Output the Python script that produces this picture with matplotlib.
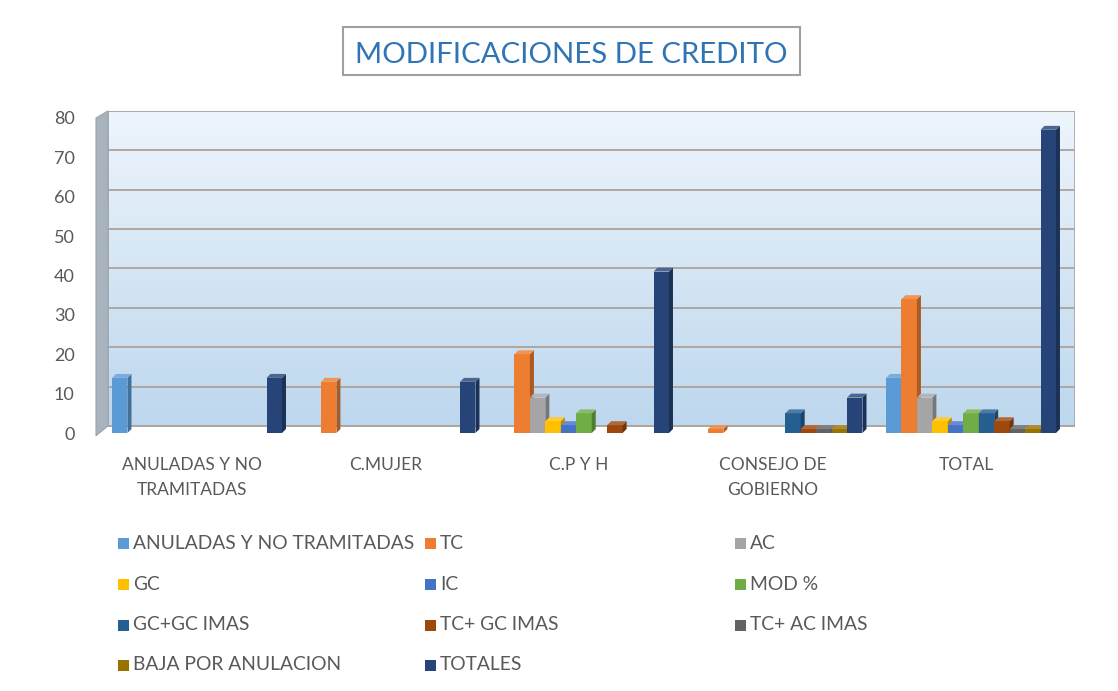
import matplotlib
matplotlib.use("Agg")
import matplotlib.pyplot as plt
import numpy as np
from matplotlib.patches import Polygon, Rectangle
from matplotlib.colors import to_rgb
import matplotlib.transforms as mtransforms

# ---------------- data ----------------
categories = ["ANULADAS Y NO\nTRAMITADAS", "C.MUJER", "C.P Y H", "CONSEJO DE\nGOBIERNO", "TOTAL"]
series_names = ["ANULADAS Y NO TRAMITADAS", "TC", "AC", "GC", "IC", "MOD %",
                "GC+GC IMAS", "TC+ GC IMAS", "TC+ AC IMAS", "BAJA POR ANULACION", "TOTALES"]
anuladas   = [14, 0, 0, 0, 14]
tc         = [0, 13, 20, 1, 34]
ac         = [0, 0, 9, 0, 9]
gc         = [0, 0, 3, 0, 3]
ic         = [0, 0, 2, 0, 2]
mod_pct    = [0, 0, 5, 0, 5]
gc_imas    = [0, 0, 0, 5, 5]
tc_gc_imas = [0, 0, 2, 1, 3]
tc_ac_imas = [0, 0, 0, 1, 1]
baja       = [0, 0, 0, 1, 1]
totales    = [14, 13, 41, 9, 77]
yticks = [0, 10, 20, 30, 40, 50, 60, 70, 80]

series_values = [anuladas, tc, ac, gc, ic, mod_pct, gc_imas, tc_gc_imas, tc_ac_imas, baja, totales]
colors = ["#5B9BD5", "#ED7D31", "#A5A5A5", "#FFC000", "#4472C4", "#70AD47",
          "#255E91", "#9E480E", "#636363", "#997300", "#264478"]

FONT = "Lato"
TXT = "#595959"

W, H = 1118, 691
fig = plt.figure(figsize=(W / 100, H / 100), dpi=100)
fig.patch.set_facecolor("white")

# axes in pixel geometry
ax_l, ax_r = 108, 1075
y0_px = 433
px_per_unit = 3.9375
depth_y = 1.8          # back wall offset (units)
ytop = 80 + depth_y
ax_top = y0_px - ytop * px_per_unit
ax = fig.add_axes([ax_l / W, (H - y0_px) / H, (ax_r - ax_l) / W, (y0_px - ax_top) / H])

cat_px0, cat_step = 197.0, 193.5
xlim = ((ax_l - cat_px0) / cat_step, (ax_r - cat_px0) / cat_step)
ax.set_xlim(*xlim)
ax.set_ylim(0, ytop)
for s in ax.spines.values():
    s.set_visible(False)

# back wall gradient
grad = np.linspace(0, 1, 256).reshape(-1, 1)
top_c = np.array(to_rgb("#EEF5FC"))
bot_c = np.array(to_rgb("#BDD7EE"))
img = top_c * (1 - grad[..., None]) + bot_c * grad[..., None]
img = img.reshape(256, 1, 3)
ax.imshow(img, extent=(xlim[0], xlim[1], depth_y, ytop), aspect="auto", zorder=0, origin="upper")
# wall frame
ax.add_patch(Rectangle((xlim[0], depth_y), xlim[1] - xlim[0], 80, fill=False,
                       edgecolor="#A6A6A6", lw=1.2, zorder=1))
# gridlines on back wall
for v in yticks:
    ax.plot([xlim[0], xlim[1]], [v + depth_y, v + depth_y], color="#AFA7A0", lw=1.4, zorder=1)

# left side wall
side_dx = 12 / cat_step
side = Polygon([(xlim[0] - side_dx, -0.7), (xlim[0], depth_y), (xlim[0], ytop), (xlim[0] - side_dx, 80)],
               closed=True, facecolor="#A9B3BD", edgecolor="#9BA5AF", lw=0.8, zorder=1, clip_on=False)
ax.add_patch(side)
simg = ax.imshow(np.array([[to_rgb("#8E99A5"), to_rgb("#C3CBD3")]]),
                 extent=(xlim[0] - side_dx, xlim[0], -0.7, ytop), aspect="auto", zorder=1.1,
                 interpolation="bilinear")
simg.set_clip_path(side)
simg.set_clip_on(True)

# bars
n = len(series_values)
sw = 15.45 / cat_step
bdx = 4 / cat_step
bdy = 1.0
xc = np.arange(len(categories))


def shade(c, f):
    r = np.array(to_rgb(c))
    return tuple(np.clip(r * f, 0, 1))


def tint(c, f):
    r = np.array(to_rgb(c))
    return tuple(r + (1 - r) * f)


for j, (vals, col) in enumerate(zip(series_values, colors)):
    z = 3 + j * 0.01
    pos = xc + (j - (n - 1) / 2) * sw
    vals = np.array(vals, dtype=float)
    mask = vals > 0
    bars = ax.bar(pos[mask], vals[mask], width=sw, color=col, zorder=z, linewidth=0)
    for b in bars:
        x0, w, h = b.get_x(), b.get_width(), b.get_height()
        ax.add_patch(Polygon([(x0 + w, 0), (x0 + w + bdx, bdy), (x0 + w + bdx, h + bdy), (x0 + w, h)],
                             closed=True, facecolor=shade(col, 0.72), lw=0, zorder=z))
        ax.add_patch(Polygon([(x0, h), (x0 + bdx, h + bdy), (x0 + w + bdx, h + bdy), (x0 + w, h)],
                             closed=True, facecolor=tint(col, 0.18), lw=0, zorder=z))

# ticks
ax.set_yticks(yticks)
ax.set_yticklabels([str(v) for v in yticks], fontfamily=FONT, fontsize=13, color=TXT)
ax.tick_params(axis="y", length=0, pad=24)
ax.set_xticks(xc)
ax.set_xticklabels(categories, fontfamily=FONT, fontsize=12.5, color=TXT, linespacing=1.7)
ax.tick_params(axis="x", length=0, pad=17)
offset = mtransforms.ScaledTranslation(-5 / 100, 0, fig.dpi_scale_trans)
for lab in ax.get_xticklabels():
    lab.set_transform(lab.get_transform() + offset)

# title
fig.patches.append(Rectangle((343 / W, 1 - 75 / H), (800 - 343) / W, 48 / H, transform=fig.transFigure,
                             fill=False, edgecolor="#A0A0A0", lw=1.5))
fig.text(571.5 / W, 1 - 63 / H, "MODIFICACIONES DE CREDITO", ha="center", va="baseline",
         fontfamily=FONT, fontsize=21.2, color="#2F75B5")

# legend (row-major, 3 columns)
col_x = [118, 425, 735]
row_y = [543.5, 584, 625, 665]
for k, (name, col) in enumerate(zip(series_names, colors)):
    r, c = divmod(k, 3)
    mx, my = col_x[c], row_y[r]
    fig.patches.append(Rectangle((mx / W, 1 - (my + 5.5) / H), 11 / W, 11 / H, transform=fig.transFigure,
                                 facecolor=col, edgecolor="none"))
    fig.text((mx + 15) / W, 1 - my / H, name, ha="left", va="center", fontfamily=FONT,
             fontsize=13.9, color=TXT)

fig.savefig("out.png", dpi=100, facecolor="white")
